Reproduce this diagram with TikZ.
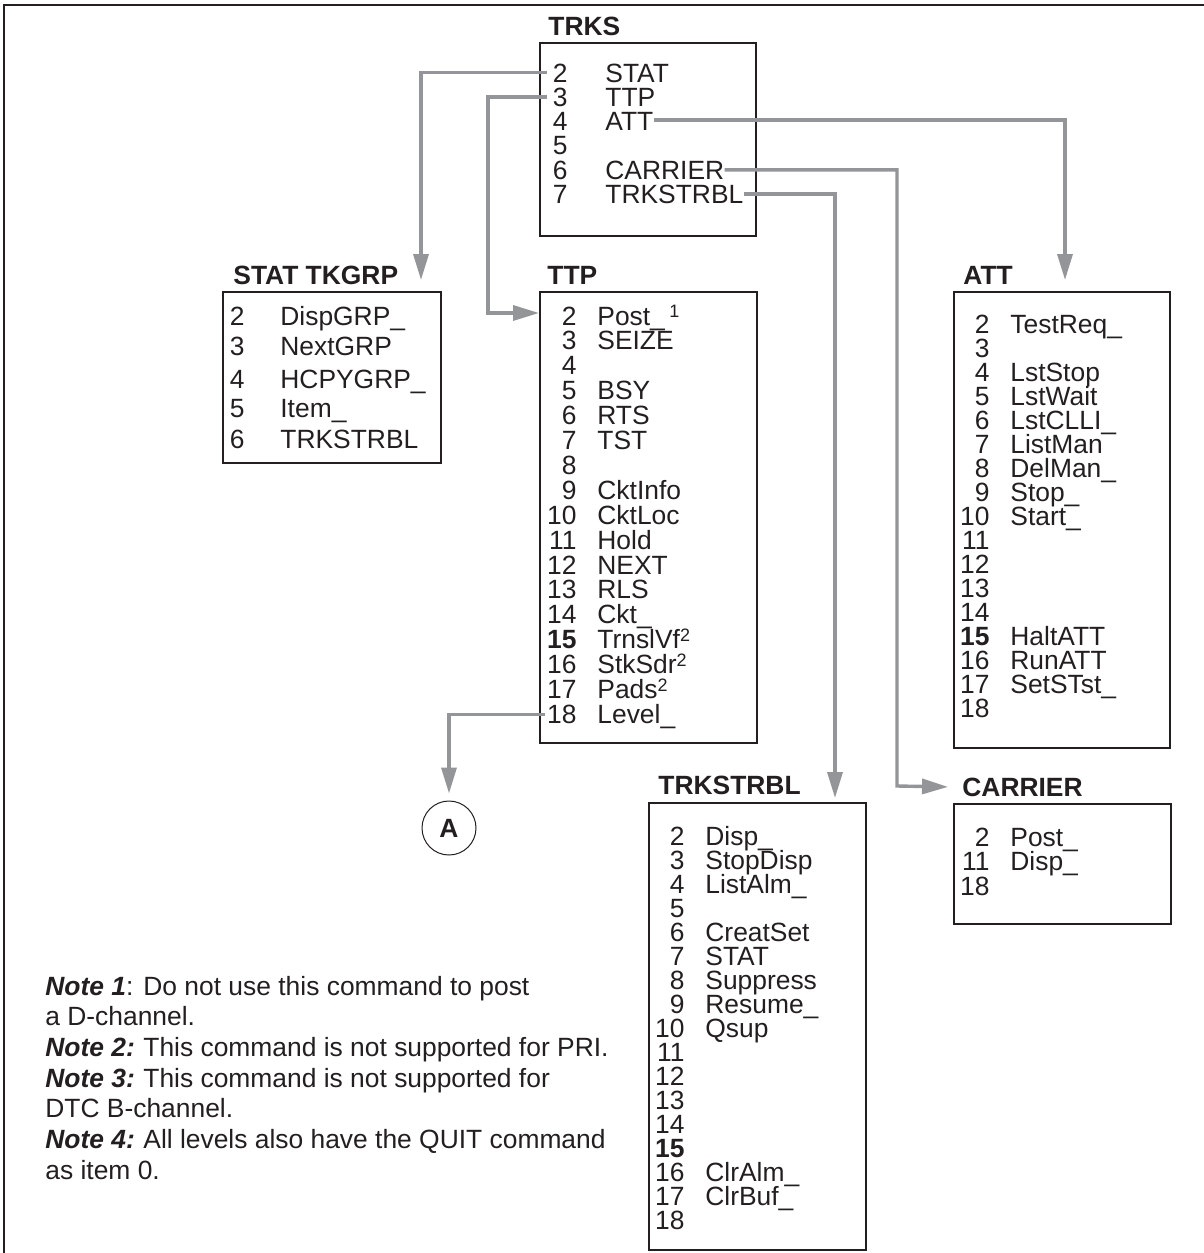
\documentclass[tikz,border=0pt]{standalone}
\usepackage{fontspec}
\setmainfont{Liberation Sans}
\usetikzlibrary{calc,arrows.meta,fit}
\definecolor{ink}{HTML}{231F20}
\definecolor{wire}{HTML}{939598}
\newcommand{\menufont}{\fontsize{13.2}{14}\selectfont}
\newcommand{\fn}[1]{\raisebox{0.28em}{\fontsize{9}{9}\selectfont #1}}

\tikzset{
  menubox/.style={draw=ink,line width=1pt,inner sep=0pt},
  title/.style={anchor=base west,inner sep=0pt,font=\menufont\bfseries,text=ink},
  num/.style={anchor=base east,inner sep=0pt,font=\menufont,text=ink},
  entry/.style={anchor=base west,inner sep=0pt,font=\menufont,text=ink},
  conn/.style={wire,line width=1.7pt},
  feed/.style={conn,-{Triangle[length=13pt,width=7.5pt]}},
  note/.style={anchor=base west,inner sep=0pt,font=\menufont,text=ink}
}

\begin{document}
\begin{tikzpicture}[x=0.5pt,y=-0.5pt]
  \useasboundingbox (0,0) rectangle (1204,1253);
  \draw[ink,line width=0.75pt] (4,1253)--(4,5)--(1204,5);

  \node[menubox,fit={(540,43) (756,236)}] (trks) {};
  \node[menubox,fit={(223,292) (441,463)}] (stattk) {};
  \node[menubox,fit={(540,292) (757,743)}] (ttp) {};
  \node[menubox,fit={(954,292) (1170,748)}] (att) {};
  \node[menubox,fit={(649,803) (866,1250)}] (strbl) {};
  \node[menubox,fit={(954,804) (1171,924)}] (carr) {};

  \node[title] (trkstitle) at (548,35) {TRKS};
  \node[title] (stattitle) at (233,284) {STAT TKGRP};
  \node[title] (ttptitle) at (547,284) {TTP};
  \node[title] (atttitle) at (963,284) {ATT};
  \node[title] (strbltitle) at (658,794) {TRKSTRBL};
  \node[title] (carrtitle) at (962,796) {CARRIER};

  \foreach \n/\t/\y [count=\i from 0] in {2/STAT/82, 3/TTP/106, 4/ATT/130, 5//154, 6/CARRIER/179, 7/TRKSTRBL/203} {
    \node[num] (trksn\i) at (568,\y) {\n};
    \node[entry] (trkst\i) at (605,\y) {\t};
  }
  \foreach \n/\t/\y [count=\i from 0] in {2/DispGRP\_/325, 3/NextGRP/355, 4/HCPYGRP\_/388, 5/Item\_/417, 6/TRKSTRBL/448} {
    \node[num] (statn\i) at (245,\y) {\n};
    \node[entry] (statt\i) at (280,\y) {\t};
  }
  \foreach \n/\t [count=\i from 0] in {2/Post\_\,\fn{1}, 3/SEIZE, 4/, 5/BSY, 6/RTS, 7/TST, 8/, 9/CktInfo, 10/CktLoc, 11/Hold, 12/NEXT, 13/RLS, 14/Ckt\_, \textbf{15}/TrnslVf\fn{2}, 16/StkSdr\fn{2}, 17/Pads\fn{2}, 18/Level\_} {
    \node[num] (ttpn\i) at (577,{325+24.9*\i}) {\n};
    \node[entry] (ttpt\i) at (597,{325+24.9*\i}) {\t};
  }
  \foreach \n/\t [count=\i from 0] in {2/TestReq\_, 3/, 4/LstStop, 5/LstWait, 6/LstCLLI\_, 7/ListMan, 8/DelMan\_, 9/Stop\_, 10/Start\_, 11/, 12/, 13/, 14/, \textbf{15}/HaltATT, 16/RunATT, 17/SetSTst\_, 18/} {
    \node[num] (attn\i) at (990,{333+24.06*\i}) {\n};
    \node[entry] (attt\i) at (1010,{333+24.06*\i}) {\t};
  }
  \foreach \n/\t [count=\i from 0] in {2/Disp\_, 3/StopDisp, 4/ListAlm\_, 5/, 6/CreatSet, 7/STAT, 8/Suppress, 9/Resume\_, 10/Qsup, 11/, 12/, 13/, 14/, \textbf{15}/, 16/ClrAlm\_, 17/ClrBuf\_, 18/} {
    \node[num] (strbln\i) at (685,{845+24.06*\i}) {\n};
    \node[entry] (strblt\i) at (705,{845+24.06*\i}) {\t};
  }
  \foreach \n/\t/\y [count=\i from 0] in {2/Post\_/846, 11/Disp\_/870, 18//895} {
    \node[num] (carrn\i) at (990,\y) {\n};
    \node[entry] (carrt\i) at (1010,\y) {\t};
  }

  \node[draw=ink,circle,line width=0.5pt,minimum size=27pt,inner sep=0pt,font=\menufont\bfseries,text=ink] (A) at (449,828) {A};

  \coordinate (statin) at (421,280);
  \coordinate (ttpbend) at (488,313);
  \coordinate (attin) at (1065,280);
  \coordinate (carrbend) at (897,786);
  \coordinate (strblin) at (835,798);

  \draw[feed] ($(trksn0.west)+(-6,0)$) -| (statin);
  \draw[feed] ($(trksn1.west)+(-6,0)$) -| (ttpbend) -- (ttp.west |- ttpbend);
  \draw[feed] ($(trkst2.east)+(0,-1)$) -| (attin);
  \draw[feed] (trkst4.east) -| (carrbend) -- ($(carrtitle.west)+(-14,0)$);
  \draw[feed] (trkst5.east) -| (strblin);
  \draw[feed] ($(ttpn16.west)+(-2,0)$) -| ([yshift=3.5pt]A.north);

  \foreach \lab/\txt [count=\i from 0] in {{\textbf{\textit{Note 1}}:}/{Do not use this command to post}, {a D-channel.}/{}, {\textbf{\textit{Note 2:}}}/{This command is not supported for PRI.}, {\textbf{\textit{Note 3:}}}/{This command is not supported for}, {DTC B-channel.}/{}, {\textbf{\textit{Note 4:}}}/{All levels also have the QUIT command}, {as item 0.}/{}} {
    \node[note] (notel\i) at (45,{995+30.7*\i}) {\lab};
    \node[note] (notet\i) at (143,{995+30.7*\i}) {\txt};
  }
\end{tikzpicture}
\end{document}
